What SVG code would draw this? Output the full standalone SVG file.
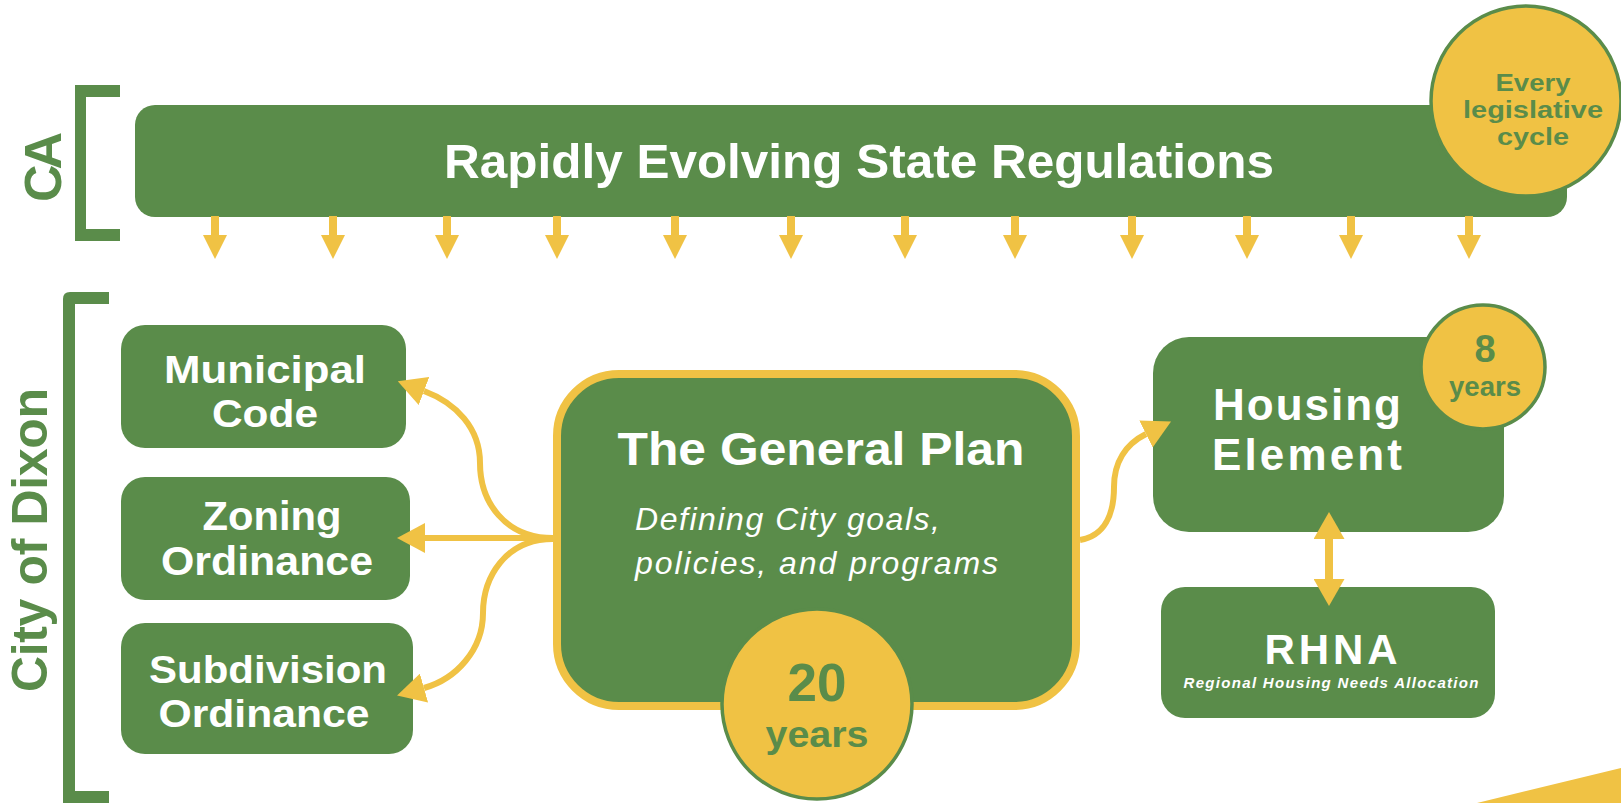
<svg xmlns="http://www.w3.org/2000/svg" width="1621" height="803" viewBox="0 0 1621 803">
<defs>
<style>
.g{fill:#5A8C4A}
.lbl{font-family:"Liberation Sans","Open Sans",sans-serif;fill:#fff;font-weight:700;text-anchor:middle}
.side{font-family:"Liberation Sans","Open Sans",sans-serif;fill:#5A8C4A;font-weight:700;text-anchor:middle}
.badge{fill:#F0C244;stroke:#5A8C4A;stroke-width:3.5}
.btxt{font-family:"Liberation Sans","Open Sans",sans-serif;fill:#5A8C4A;font-weight:700;text-anchor:middle}
.it{font-family:"Liberation Sans","Open Sans",sans-serif;fill:#fff;font-style:italic}
.con{fill:none;stroke:#F0C244;stroke-width:6}
.down{stroke:#F0C244;stroke-width:8}
</style>
<marker id="head" viewBox="0 0 28 30" refX="0" refY="15" markerWidth="28" markerHeight="30" markerUnits="userSpaceOnUse" orient="auto"><path d="M0,0 L28,15 L0,30 z" fill="#F0C244"/></marker>
<marker id="headS" viewBox="0 0 24 24" refX="0" refY="12" markerWidth="24" markerHeight="24" markerUnits="userSpaceOnUse" orient="auto"><path d="M0,0 L24,12 L0,24 z" fill="#F0C244"/></marker>
<marker id="headD" viewBox="0 0 27 31" refX="0" refY="15.5" markerWidth="27" markerHeight="31" markerUnits="userSpaceOnUse" orient="auto-start-reverse"><path d="M0,0 L27,15.5 L0,31 z" fill="#F0C244"/></marker>
</defs>

<!-- brackets and side labels -->
<g id="ca-bracket">
<path class="g" d="M75,85 H120 V97 H86 V229 H120 V241 H75 Z"/>
<text class="side" font-size="52" textLength="70" transform="translate(61,167) rotate(-90)">CA</text>
</g>
<g id="dixon-bracket">
<path class="g" d="M70,292 H109 V304 H75 V791 H109 V803 H63 V299 Q63,292 70,292 Z"/>
<text class="side" font-size="50" textLength="304" transform="translate(47,540) rotate(-90)">City of Dixon</text>
</g>

<!-- state regulations bar -->
<g id="state-regs">
<rect class="g" x="135" y="105" width="1432" height="112" rx="20"/>
<text class="lbl" x="859" y="178" font-size="48" textLength="830" lengthAdjust="spacingAndGlyphs">Rapidly Evolving State Regulations</text>
</g>
<g id="legislative-badge">
<circle class="badge" cx="1526" cy="101" r="95"/>
<text class="btxt" x="1533" y="91" font-size="23.5" textLength="75" lengthAdjust="spacingAndGlyphs">Every</text>
<text class="btxt" x="1533" y="118" font-size="23.5" textLength="140" lengthAdjust="spacingAndGlyphs">legislative</text>
<text class="btxt" x="1533" y="145" font-size="23.5" textLength="72" lengthAdjust="spacingAndGlyphs">cycle</text>
</g>

<!-- left boxes -->
<g id="municipal-code">
<rect class="g" x="121" y="325" width="285" height="123" rx="24"/>
<text class="lbl" x="265" y="383" font-size="39" textLength="202" lengthAdjust="spacingAndGlyphs">Municipal</text>
<text class="lbl" x="265" y="427" font-size="39" textLength="106" lengthAdjust="spacingAndGlyphs">Code</text>
</g>
<g id="zoning-ordinance">
<rect class="g" x="121" y="477" width="289" height="123" rx="24"/>
<text class="lbl" x="272" y="530" font-size="40" textLength="139" lengthAdjust="spacingAndGlyphs">Zoning</text>
<text class="lbl" x="267" y="575" font-size="40" textLength="212" lengthAdjust="spacingAndGlyphs">Ordinance</text>
</g>
<g id="subdivision-ordinance">
<rect class="g" x="121" y="623" width="292" height="131" rx="24"/>
<text class="lbl" x="268" y="683" font-size="39" textLength="238" lengthAdjust="spacingAndGlyphs">Subdivision</text>
<text class="lbl" x="264" y="727" font-size="39" textLength="211" lengthAdjust="spacingAndGlyphs">Ordinance</text>
</g>

<!-- general plan -->
<g id="general-plan">
<rect x="557" y="374" width="519" height="332" rx="62" fill="#5A8C4A" stroke="#F0C244" stroke-width="8"/>
<text class="lbl" x="821" y="465" font-size="46" textLength="407" lengthAdjust="spacingAndGlyphs">The General Plan</text>
<text class="it" x="635" y="530" font-size="32" textLength="305">Defining City goals,</text>
<text class="it" x="635" y="574" font-size="32" textLength="363">policies, and programs</text>
</g>
<g id="twenty-years">
<circle class="badge" cx="817" cy="704" r="95"/>
<text class="btxt" x="817" y="701" font-size="53">20</text>
<text class="btxt" x="817" y="747" font-size="37" textLength="103" lengthAdjust="spacingAndGlyphs">years</text>
</g>

<!-- housing element -->
<g id="housing-element">
<rect class="g" x="1153" y="337" width="351" height="195" rx="36"/>
<text class="lbl" x="1307" y="420" font-size="44" textLength="188">Housing</text>
<text class="lbl" x="1307" y="470" font-size="44" textLength="190">Element</text>
</g>
<g id="eight-years">
<circle class="badge" cx="1483" cy="367" r="62"/>
<text class="btxt" x="1485" y="362" font-size="38">8</text>
<text class="btxt" x="1485" y="396" font-size="27" textLength="72" lengthAdjust="spacingAndGlyphs">years</text>
</g>

<!-- RHNA -->
<g id="rhna">
<rect class="g" x="1161" y="587" width="334" height="131" rx="24"/>
<text class="lbl" x="1331" y="664" font-size="42" textLength="133">RHNA</text>
<text class="lbl" x="1331" y="688" font-size="15" font-style="italic" textLength="295">Regional Housing Needs Allocation</text>
</g>

<!-- connectors -->
<g id="connectors">
<line class="down" x1="215" y1="216" x2="215" y2="235" marker-end="url(#headS)"/>
<line class="down" x1="333" y1="216" x2="333" y2="235" marker-end="url(#headS)"/>
<line class="down" x1="447" y1="216" x2="447" y2="235" marker-end="url(#headS)"/>
<line class="down" x1="557" y1="216" x2="557" y2="235" marker-end="url(#headS)"/>
<line class="down" x1="675" y1="216" x2="675" y2="235" marker-end="url(#headS)"/>
<line class="down" x1="791" y1="216" x2="791" y2="235" marker-end="url(#headS)"/>
<line class="down" x1="905" y1="216" x2="905" y2="235" marker-end="url(#headS)"/>
<line class="down" x1="1015" y1="216" x2="1015" y2="235" marker-end="url(#headS)"/>
<line class="down" x1="1132" y1="216" x2="1132" y2="235" marker-end="url(#headS)"/>
<line class="down" x1="1247" y1="216" x2="1247" y2="235" marker-end="url(#headS)"/>
<line class="down" x1="1351" y1="216" x2="1351" y2="235" marker-end="url(#headS)"/>
<line class="down" x1="1469" y1="216" x2="1469" y2="235" marker-end="url(#headS)"/>
<path class="con" d="M553,538 C505,538 480,502 480,463 C480,428 456,403 424,391" marker-end="url(#head)"/>
<path class="con" d="M553,538 L425,538" marker-end="url(#head)"/>
<path class="con" d="M553,539 C505,539 483,578 483,613 C483,650 456,679 424,688" marker-end="url(#head)"/>
<path class="con" d="M1080,540 C1104,536 1114,515 1114,487 C1114,462 1126,444 1146,434" marker-end="url(#head)"/>
<line class="down" x1="1329" y1="539" x2="1329" y2="579" marker-start="url(#headD)" marker-end="url(#headD)"/>
</g>

<!-- decorative corner -->
<polygon points="1477,803 1621,768 1621,803" fill="#F0C244"/>
</svg>
